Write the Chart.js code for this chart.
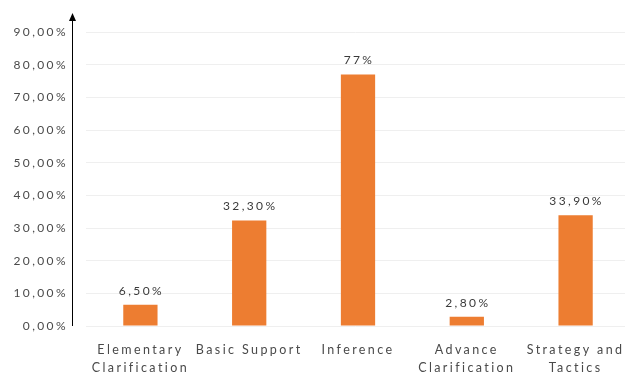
<!DOCTYPE html>
<html>
<head>
<meta charset="utf-8">
<script src="https://cdn.jsdelivr.net/npm/chart.js@4/dist/chart.umd.min.js"></script>
<style>
html,body{margin:0;padding:0;background:#fff;}
#wrap{width:625px;height:379px;position:relative;}
</style>
</head>
<body>
<div id="wrap"><canvas id="c"></canvas></div>
<script>
const categories = [["Elementary","Clarification"],"Basic Support","Inference",["Advance","Clarification"],["Strategy and","Tactics"]];
const values = [6.5, 32.3, 77, 2.8, 33.9];
const valueLabels = ["6,50%","32,30%","77%","2,80%","33,90%"];
const yTicks = [0,10,20,30,40,50,60,70,80,90];

const FONT = "Lato, 'Open Sans', sans-serif";
const SPACING = "2.4px";
const TEXT = "#4a4a4a";

const spacingPlugin = {
  id:'spacing',
  beforeUpdate(chart){ chart.ctx.letterSpacing = SPACING; },
  beforeLayout(chart){ chart.ctx.letterSpacing = SPACING; },
  afterLayout(chart){
    // extend the category range slightly past the canvas edge, as in the reference
    const xs = chart.scales.x;
    xs.right = xs.right + 5;
    xs.width = xs.right - xs.left;
    xs.configure();
  },
  beforeDraw(chart){ chart.ctx.letterSpacing = SPACING; }
};

const overlay = {
  id:'overlay',
  afterDatasetsDraw(chart){
    const ctx = chart.ctx;
    const meta = chart.getDatasetMeta(0);
    ctx.save();
    ctx.letterSpacing = SPACING;
    ctx.font = "12px " + FONT;
    ctx.fillStyle = "#3a3a3a";
    ctx.textAlign = "center";
    ctx.textBaseline = "bottom";
    meta.data.forEach((bar,i)=>{
      ctx.fillText(valueLabels[i], bar.x + 1, bar.y - 8);
    });
    // y axis with arrow
    const ys = chart.scales.y;
    const x0 = Math.round(ys.right - 14) + 0.5;
    const yb = ys.getPixelForValue(0);
    const yt = ys.getPixelForValue(90) - 17;
    ctx.strokeStyle = "#000";
    ctx.lineWidth = 1;
    ctx.beginPath();
    ctx.moveTo(x0, yb);
    ctx.lineTo(x0, yt + 4);
    ctx.stroke();
    ctx.fillStyle = "#000";
    ctx.beginPath();
    ctx.moveTo(x0, yt - 2);
    ctx.lineTo(x0 - 3.5, yt + 6);
    ctx.lineTo(x0 + 3.5, yt + 6);
    ctx.closePath();
    ctx.fill();
    ctx.restore();
  }
};

new Chart(document.getElementById('c'), {
  type:'bar',
  data:{
    labels: categories,
    datasets:[{
      data: values,
      backgroundColor:'#ED7D31',
      borderWidth:0,
      barPercentage:0.315,
      categoryPercentage:1
    }]
  },
  options:{
    responsive:true,
    maintainAspectRatio:false,
    animation:false,
    layout:{padding:{left:0,right:0,top:32,bottom:0}},
    plugins:{legend:{display:false},tooltip:{enabled:false}},
    scales:{
      x:{
        grid:{display:false, drawTicks:false},
        border:{display:false},
        ticks:{
          color:TEXT,
          font:{family:FONT,size:12.5,lineHeight:1.45},
          padding:15,
          maxRotation:0,
          autoSkip:false
        },
        afterFit(s){ s.height = 53; s.paddingLeft = 0; s.paddingRight = 0; }
      },
      y:{
        min:0,max:90,
        afterBuildTicks(s){ s.ticks = yTicks.map(v=>({value:v})); },
        grid:{color:'#efefef', drawTicks:false},
        border:{display:false},
        ticks:{
          color:TEXT,
          font:{family:FONT,size:12},
          padding:18,
          callback:(v)=>v.toFixed(2).replace('.',',')+'%'
        },
        afterFit(s){ s.width = 86; s.paddingTop = 0; s.paddingBottom = 0; }
      }
    }
  },
  plugins:[spacingPlugin, overlay]
});
</script>
</body>
</html>
